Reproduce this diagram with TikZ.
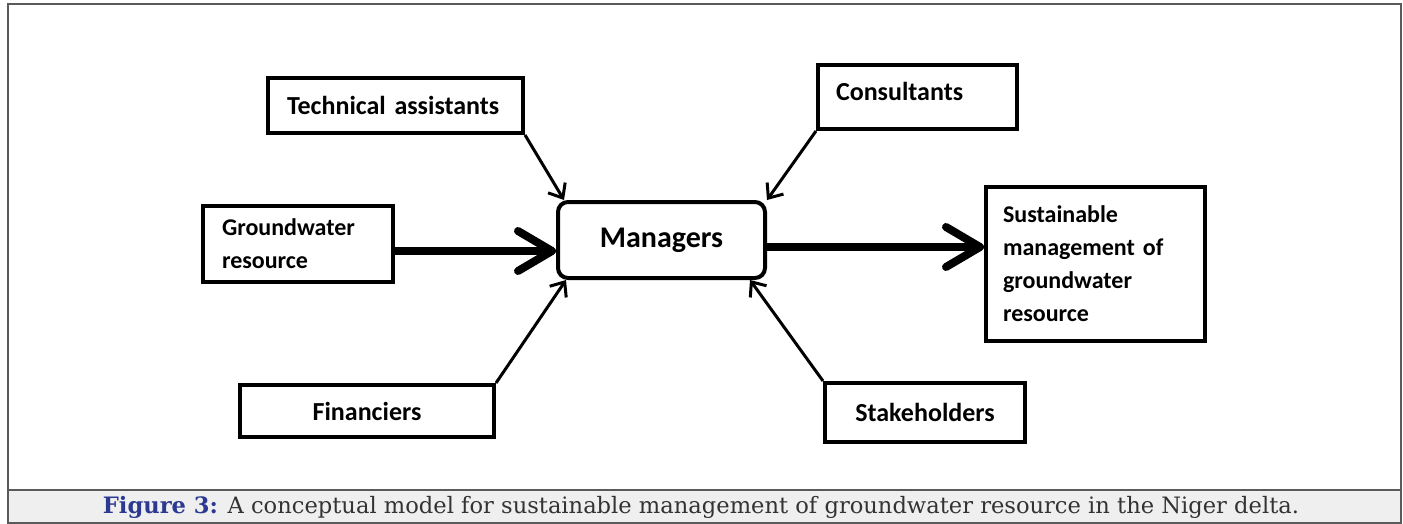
\documentclass[tikz,border=0pt]{standalone}
\usepackage{fontspec}
\setmainfont{DejaVu Serif}
\newfontfamily\boxfont{Carlito}
\usetikzlibrary{arrows.meta}
\definecolor{capblue}{HTML}{2B3990}
\definecolor{capgrey}{HTML}{EFEFEF}
\definecolor{framegrey}{HTML}{5A5A5A}
\tikzset{
  box/.style = 	{shape=rectangle, draw, line width=2pt,
				inner sep=0pt, align=left,
				font=\boxfont\bfseries\fontsize{12}{16.5}\selectfont},
  tag/.style = 	{box, font=\boxfont\bfseries\fontsize{13}{16}\selectfont},
  mgr/.style = 	{box, rounded corners=5pt, align=center,
				font=\boxfont\bfseries\fontsize{15}{18}\selectfont},
  feed/.style = 	{line width=1.5pt, -{Straight Barb[length=6pt,width=10pt]}},
  flow/.style = 	{line width=4pt, line cap=round,
				-{Straight Barb[length=17pt,width=20pt,round]}},
}

\begin{document}
\begin{tikzpicture}
	[
		x = 0.5pt,
		y = -0.5pt
	]
	\useasboundingbox (0,0) rectangle (1403,524);
	\draw [framegrey, line width=0.75pt, fill=capgrey] (8,490) rectangle (1401,523);
	\draw [framegrey, line width=0.75pt] (8,4) rectangle (1401,523);

	\node [tag, minimum width=127.5pt, minimum height=27.5pt,
		inner xsep=9.5pt, text width=108.5pt] (tech) at (395.5,105.5) {Technical assistants};
	\node [tag, minimum width=99.5pt, minimum height=32pt, text depth=6pt,
		inner xsep=9pt, text width=81.5pt] (cons) at (917.5,97) {Consultants};
	\node [box, minimum width=95pt, minimum height=38pt,
		inner xsep=9.5pt, text width=76pt] (gw) at (298,244) {Groundwater\\resource};
	\node [mgr, minimum width=103.5pt, minimum height=38pt] (mgr) at (661.5,240) {Managers};
	\node [box, minimum width=109.5pt, minimum height=77pt,
		inner xsep=8.5pt, text width=92.5pt] (sust) at (1095.5,264)
		{Sustainable\\management of\\groundwater\\resource};
	\node [tag, minimum width=127pt, minimum height=26pt] (fin) at (367,411) {Financiers};
	\node [tag, minimum width=100pt, minimum height=29.5pt] (stake) at (925,412.5) {Stakeholders};

	\draw [feed] (tech.south east) -- ([xshift=4pt]mgr.north west);
	\draw [feed] (cons.south west) -- (mgr.north east);
	\draw [feed] (fin.north east) -- ([xshift=5pt]mgr.south west);
	\draw [feed] (stake.north west) -- ([xshift=-8.5pt]mgr.south east);
	\draw [flow] ([yshift=-3.5pt]gw.east) -- ([yshift=-5.5pt]mgr.west);
	\draw [flow] ([yshift=-3.5pt]mgr.east) -- ([yshift=-3.5pt]mgr.east -| sust.west);

	\node [text=black!80, font=\fontsize{11.3}{13}\selectfont] (caption) at (701,507)
		{\textcolor{capblue}{\bfseries Figure 3:} A conceptual model for sustainable management of groundwater resource in the Niger delta.};
\end{tikzpicture}
\end{document}
